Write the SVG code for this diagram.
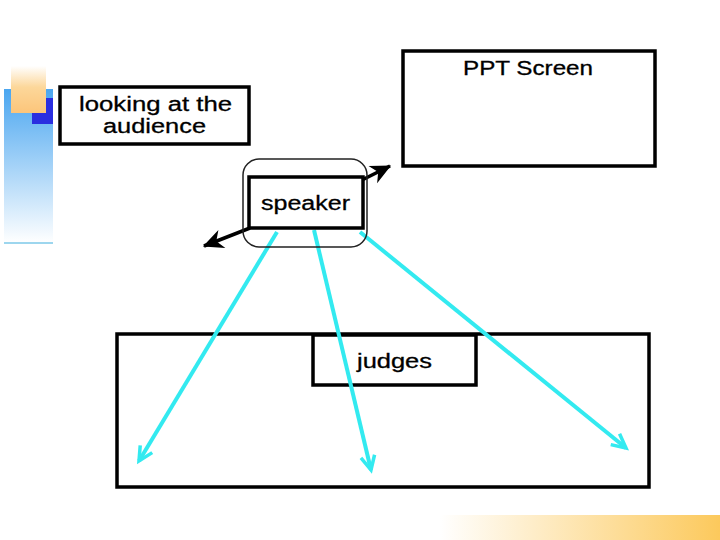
<svg xmlns="http://www.w3.org/2000/svg" width="720" height="540" viewBox="0 0 720 540">
<defs>
<linearGradient id="gBar" x1="0" y1="0" x2="0" y2="1"><stop offset="0" stop-color="#4aa6f0"/><stop offset="1" stop-color="#ffffff"/></linearGradient>
<linearGradient id="gOr" x1="0" y1="0" x2="0" y2="1"><stop offset="0" stop-color="#ffffff"/><stop offset="0.45" stop-color="#fcd79a"/><stop offset="1" stop-color="#fcc57a"/></linearGradient>
<linearGradient id="gBot" x1="0" y1="0" x2="1" y2="0"><stop offset="0" stop-color="#ffffff"/><stop offset="1" stop-color="#fcc95c"/></linearGradient>
<marker id="cy" viewBox="0 0 20 20" refX="16" refY="10" markerWidth="20" markerHeight="20" markerUnits="userSpaceOnUse" orient="auto"><polyline points="2,3 16,10 2,17" fill="none" stroke="#33eaf0" stroke-width="3.5"/></marker>
<marker id="bk" viewBox="0 0 20 20" refX="17" refY="10" markerWidth="24" markerHeight="24" markerUnits="userSpaceOnUse" orient="auto"><polygon points="1,2 18,10 1,18 6,10" fill="#000"/></marker>
</defs>
<style>
.box{fill:#fff;stroke:#000;stroke-width:3.5}
.t{font-family:"Liberation Sans",Arial,sans-serif;font-size:20px;fill:#000;stroke:#000;stroke-width:0.3}
.cl{fill:none;stroke:#33eaf0;stroke-width:4;marker-end:url(#cy)}
.bl{fill:none;stroke:#000;stroke-width:3.5;marker-end:url(#bk)}
</style>
<g id="decor">
<rect x="4" y="89" width="49" height="154" fill="url(#gBar)"/>
<line x1="4" y1="243" x2="53" y2="243" stroke="#7cc8e8" stroke-width="1.5"/>
<rect x="32" y="98" width="21" height="26" fill="#2a2ee0"/>
<rect x="11" y="66" width="35" height="47" fill="url(#gOr)"/>
<rect x="440" y="515" width="280" height="25" fill="url(#gBot)"/>
</g>
<g id="looking">
<rect class="box" x="60" y="87" width="189" height="57"/>
<text class="t" x="79" y="111" textLength="153" lengthAdjust="spacingAndGlyphs">looking at the</text>
<text class="t" x="103" y="133" textLength="103" lengthAdjust="spacingAndGlyphs">audience</text>
</g>
<g id="ppt">
<rect class="box" x="403" y="51" width="252" height="115"/>
<text class="t" x="463" y="75" textLength="130" lengthAdjust="spacingAndGlyphs">PPT Screen</text>
</g>
<g id="judgesArea">
<rect class="box" x="117" y="334" width="532" height="153"/>
</g>
<g id="judges">
<rect class="box" x="313" y="335" width="163" height="50"/>
<text class="t" x="357" y="368" textLength="75" lengthAdjust="spacingAndGlyphs">judges</text>
</g>
<g id="connectors">
<line class="cl" x1="277" y1="232" x2="139" y2="461"/>
<line class="cl" x1="314" y1="230" x2="371" y2="470"/>
<line class="cl" x1="360" y1="232" x2="626" y2="448"/>
<line class="bl" x1="360" y1="181" x2="390" y2="166"/>
<line class="bl" x1="250" y1="228" x2="204" y2="246"/>
</g>
<g id="speaker">
<rect x="243" y="159" width="124" height="88" rx="16" fill="none" stroke="#222" stroke-width="1.5"/>
<rect class="box" x="249" y="177" width="114" height="51" fill="none"/>
<text class="t" x="261" y="210" textLength="89" lengthAdjust="spacingAndGlyphs">speaker</text>
</g>
</svg>
